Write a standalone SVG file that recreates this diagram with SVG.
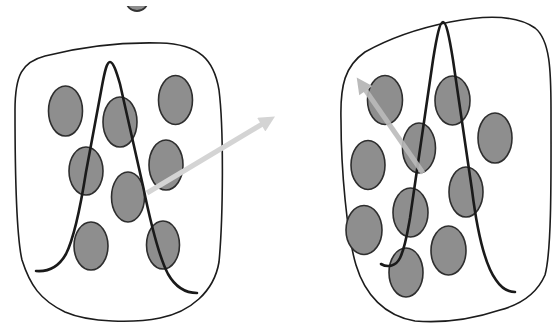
<svg xmlns="http://www.w3.org/2000/svg" width="552" height="326" viewBox="0 0 552 326">
  <defs>
    <style>
      .blob { fill: none; stroke: #1c1c1c; stroke-width: 1.6; }
      .dot { fill: #8e8e8e; stroke: #2e2e2e; stroke-width: 1.6; }
      .bell { fill: none; stroke: #1a1a1a; stroke-width: 2.6; stroke-linejoin: round; stroke-linecap: round; }
      .shift { fill: none; stroke-width: 5; }
    </style>
    <clipPath id="topClip">
      <rect x="0" y="6" width="552" height="20"/>
    </clipPath>
    <marker id="headLight" viewBox="0 0 10 10" refX="2" refY="5" markerWidth="20" markerHeight="16" markerUnits="userSpaceOnUse" orient="auto">
      <path d="M0,0 L10,5 L0,10 Z" fill="#d4d4d4"/>
    </marker>
    <marker id="headDark" viewBox="0 0 10 10" refX="2" refY="5" markerWidth="20" markerHeight="16" markerUnits="userSpaceOnUse" orient="auto">
      <path d="M0,0 L10,5 L0,10 Z" fill="#bababa"/>
    </marker>
  </defs>
  <rect width="552" height="326" fill="#ffffff"/>

  <!-- partly visible dot at the top edge -->
  <g id="top-dot" clip-path="url(#topClip)">
    <ellipse cx="137" cy="0" rx="11" ry="11" fill="#8e8e8e" stroke="#333" stroke-width="1.8"/>
  </g>

  <!-- left population -->
  <g id="population-left">
    <path class="blob" d="M15,110 C15,75 22,62 45,56 C80,47 120,42 160,43 C200,44 214,60 219,90 C224,130 223,220 219,262 C214,292 190,312 160,318 C135,323 90,323 65,312 C40,300 30,285 22,260 C15,230 15,150 15,110 Z"/>
    <ellipse class="dot" cx="65.5" cy="111" rx="17" ry="25"/>
    <ellipse class="dot" cx="120" cy="122" rx="17" ry="25"/>
    <ellipse class="dot" cx="175.5" cy="100" rx="17" ry="24.5"/>
    <ellipse class="dot" cx="86" cy="171" rx="17" ry="24"/>
    <ellipse class="dot" cx="166" cy="165" rx="17" ry="25"/>
    <ellipse class="dot" cx="128" cy="197" rx="16.5" ry="25"/>
    <ellipse class="dot" cx="91" cy="246" rx="17" ry="24"/>
    <ellipse class="dot" cx="163" cy="245" rx="16.5" ry="24"/>
    <path class="bell" d="M36,271 C48,272 58,268 66,254 C74,238 80,210 86,172 L102,86 C105,70 107,62 110,62 C113,62 116,70 120,84 L143,186 C150,220 158,255 168,274 C176,288 186,293 197,293"/>
  </g>

  <!-- right population -->
  <g id="population-right">
    <path class="blob" d="M341,120 C340,85 345,66 365,52 C390,38 420,28 450,22 C480,16 515,14 535,28 C550,40 551,70 551,110 C551,170 552,250 545,275 C535,298 515,306 500,310 C470,320 440,323 415,321 C385,316 365,295 356,265 C347,235 341,170 341,120 Z"/>
    <ellipse class="dot" cx="385" cy="100" rx="17.5" ry="24.5"/>
    <ellipse class="dot" cx="452.5" cy="100.5" rx="17.5" ry="24.5"/>
    <ellipse class="dot" cx="495" cy="138" rx="17" ry="25"/>
    <ellipse class="dot" cx="419" cy="148" rx="16.5" ry="25"/>
    <ellipse class="dot" cx="368" cy="165" rx="17" ry="24.5"/>
    <ellipse class="dot" cx="466" cy="192" rx="17" ry="25"/>
    <ellipse class="dot" cx="410.5" cy="212.5" rx="17.5" ry="24.5"/>
    <ellipse class="dot" cx="364" cy="230" rx="18" ry="24.5"/>
    <ellipse class="dot" cx="448.5" cy="250.5" rx="17.5" ry="24.5"/>
    <ellipse class="dot" cx="406" cy="272.5" rx="17" ry="24.5"/>
    <path class="bell" d="M381,264 C388,268 396,266 400,258 C405,248 407,235 410,218 L433,60 C437,35 440,22 443,22 C446,22 449,35 453,60 L472,190 C477,230 485,265 496,280 C502,289 508,292 515,292"/>
  </g>

  <!-- shift arrows -->
  <g id="connectors">
    <path class="shift" stroke="#d4d4d4" d="M147,193 L264,123" marker-end="url(#headLight)"/>
    <path class="shift" stroke="#bababa" stroke-opacity="0.9" d="M423,173 L364,88" marker-end="url(#headDark)"/>
  </g>
</svg>
